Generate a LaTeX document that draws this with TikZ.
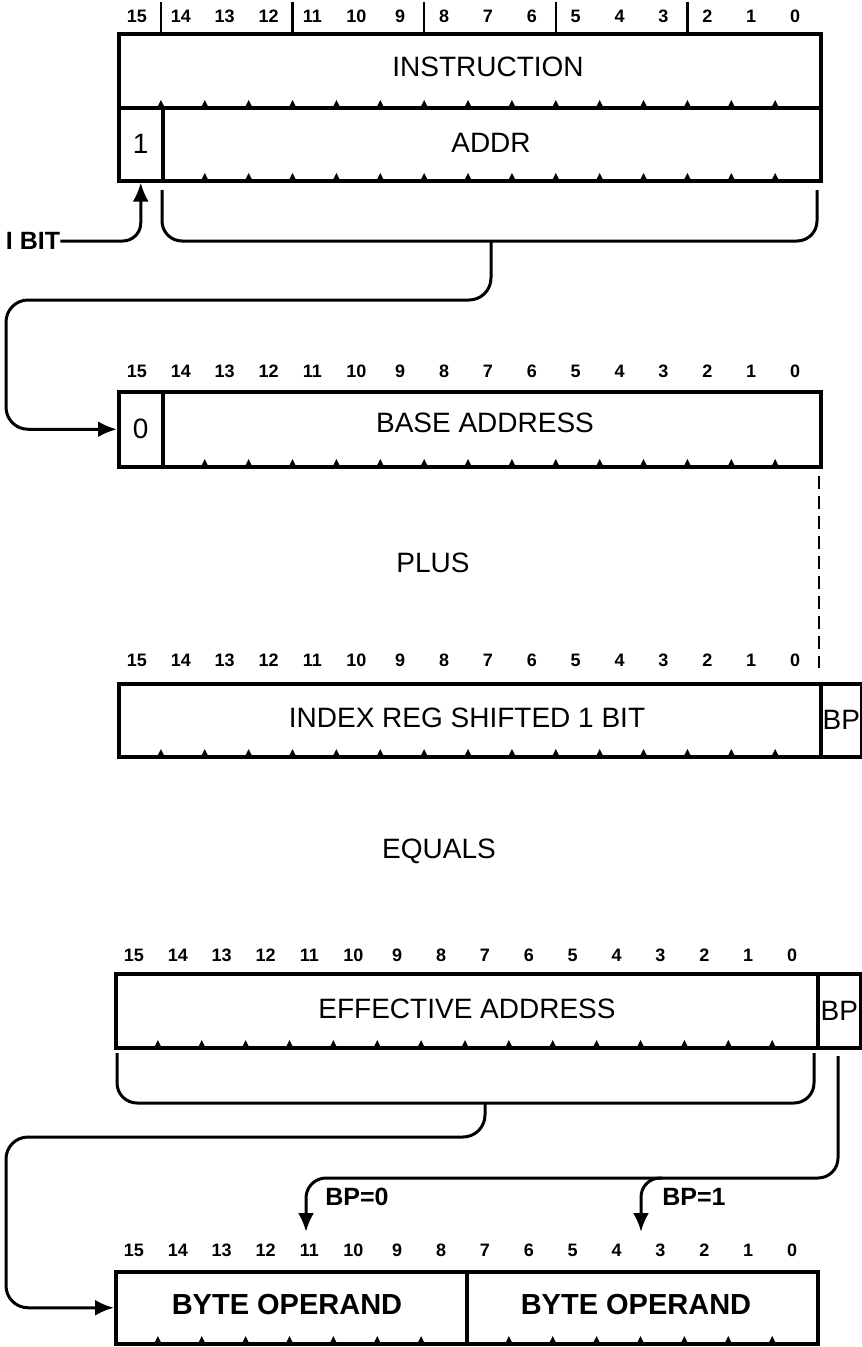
\documentclass[tikz,border=0pt]{standalone}
\usepackage{fontspec}
\setmainfont{Liberation Sans}
\usetikzlibrary{arrows.meta}
\tikzset{
  reg/.style={draw, line width=3.5pt, inner sep=0pt, anchor=north west},
  lbl/.style={font=\fontsize{28}{30}\selectfont, inner sep=0pt},
  boldlbl/.style={font=\fontsize{29}{31}\selectfont\bfseries, inner sep=0pt},
  tag/.style={font=\fontsize{25}{27}\selectfont\bfseries, inner sep=0pt},
  num/.style={font=\fontsize{18}{19}\selectfont\bfseries, inner sep=0pt},
  conn/.style={line width=3pt},
}
\begin{document}
\begin{tikzpicture}[x=1pt, y=-1pt, >={Latex[length=19pt,width=16pt]}]
 \useasboundingbox (0,0) rectangle (862,1347);
 % instruction word
 \node[reg, minimum width=702pt, minimum height=74pt] (instr) at (117,32) {};
 \node[reg, minimum width=44pt, minimum height=73pt] (onecell) at (117,106) {};
 \node[reg, minimum width=658pt, minimum height=73pt] (addr) at (161,106) {};
 \node[lbl] (instrtxt) at (488,67) {INSTRUCTION};
 \node[lbl] (addrtxt) at (491,143) {ADDR};
 \node[lbl] (onetxt) at (onecell.center) {1};
 \foreach \b in {0,...,15}
   \node[num] (tn\b) at ({117+(15.5-\b)*43.875-2},16) {\b};
 \foreach \k in {1,4,7,10,13}
   \draw[line width=2.5pt] ({117+\k*43.875},2) -- ({117+\k*43.875},32);
 \foreach \k in {1,...,15}
   \fill ({117+\k*43.875-3},106) -- ++(3,-6) -- ++(3,6) -- cycle;
 \foreach \k in {2,...,15}
   \fill ({117+\k*43.875-3},179) -- ++(3,-6) -- ++(3,6) -- cycle;
 % base address
 \node[reg, minimum width=44pt, minimum height=75pt] (zero) at (117,390) {};
 \node[reg, minimum width=658pt, minimum height=75pt] (baseaddr) at (161,390) {};
 \node[lbl] (zerotxt) at (zero.center) {0};
 \node[lbl] (basetxt) at (485,423) {BASE ADDRESS};
 \foreach \b in {0,...,15}
   \node[num] (bn\b) at ({117+(15.5-\b)*43.875-2},371) {\b};
 \foreach \k in {2,...,15}
   \fill ({117+\k*43.875-3},465) -- ++(3,-6) -- ++(3,6) -- cycle;
 % I bit arrow and address brace
 \node[tag] (ibit) at (33,241) {I BIT};
 \draw[conn,->,rounded corners=18pt] (ibit.east) -| (onecell.south);
 \coordinate (brl) at (162,190);
 \coordinate (brr) at (817,190);
 \coordinate (brm) at (491,241);
 \coordinate (loopa) at (6,300);
 \draw[conn,rounded corners=20pt] (brl) |- (brm) -| (brr);
 \draw[conn,->,rounded corners=22pt] (brm) |- (loopa) |- (zero.west);
 \coordinate (dtop) at (819,476);
 \coordinate (dbot) at (819,668);
 \draw[line width=2pt, dash pattern=on 13pt off 7pt] (dtop) -- (dbot);
 \node[lbl] (plus) at (433,563) {PLUS};
 % index register
 \node[reg, minimum width=702pt, minimum height=73pt] (idx) at (117,682) {};
 \node[reg, minimum width=41pt, minimum height=73pt] (idxbp) at (819,682) {};
 \node[lbl] (idxtxt) at (467,718) {INDEX REG SHIFTED 1 BIT};
 \node[lbl] (idxbptxt) at (idxbp.center) {BP};
 \foreach \b in {0,...,15}
   \node[num] (in\b) at ({117+(15.5-\b)*43.875-2},660) {\b};
 \foreach \k in {1,...,15}
   \fill ({117+\k*43.875-3},755) -- ++(3,-6) -- ++(3,6) -- cycle;
 \node[lbl] (equals) at (439,851) {EQUALS};
 % effective address
 \node[reg, minimum width=702pt, minimum height=74pt] (ea) at (114,972) {};
 \node[reg, minimum width=43pt, minimum height=74pt] (eabp) at (816,972) {};
 \node[lbl] (eatxt) at (467,1009) {EFFECTIVE ADDRESS};
 \node[lbl] (eabptxt) at (eabp.center) {BP};
 \foreach \b in {0,...,15}
   \node[num] (en\b) at ({114+(15.5-\b)*43.875-2},955) {\b};
 \foreach \k in {1,...,15}
   \fill ({114+\k*43.875-3},1046) -- ++(3,-6) -- ++(3,6) -- cycle;
 % byte operands
 \node[reg, minimum width=351pt, minimum height=72pt] (bytehi) at (114,1270) {};
 \node[reg, minimum width=351pt, minimum height=72pt] (bytelo) at (465,1270) {};
 \node[boldlbl] (hitxt) at (287,1305) {BYTE OPERAND};
 \node[boldlbl] (lotxt) at (636,1305) {BYTE OPERAND};
 \foreach \b in {0,...,15}
   \node[num] (yn\b) at ({114+(15.5-\b)*43.875-2},1250) {\b};
 \foreach \k in {1,...,7,9,10,...,15}
   \fill ({114+\k*43.875-3},1342) -- ++(3,-6) -- ++(3,6) -- cycle;
 % effective address brace
 \coordinate (ebl) at (117,1053);
 \coordinate (ebr) at (814,1053);
 \coordinate (ebm) at (485,1103);
 \coordinate (loopb) at (6,1137);
 \draw[conn,rounded corners=20pt] (ebl) |- (ebm) -| (ebr);
 \draw[conn,->,rounded corners=22pt] (ebm) |- (loopb) |- (bytehi.west);
 % byte pointer selection
 \coordinate (bptop) at (838,1056);
 \coordinate (bpbus) at (306,1178);
 \coordinate (bp0) at (306,1232);
 \coordinate (bpfork) at (662,1178);
 \coordinate (bp1) at (641,1232);
 \draw[conn,->,rounded corners=20pt] (bptop) |- (bpbus) -- (bp0);
 \draw[conn,->,rounded corners=19pt] (bpfork) -| (bp1);
 \node[tag] (bpzero) at (357,1197) {BP=0};
 \node[tag] (bpone) at (694,1197) {BP=1};
\end{tikzpicture}
\end{document}
